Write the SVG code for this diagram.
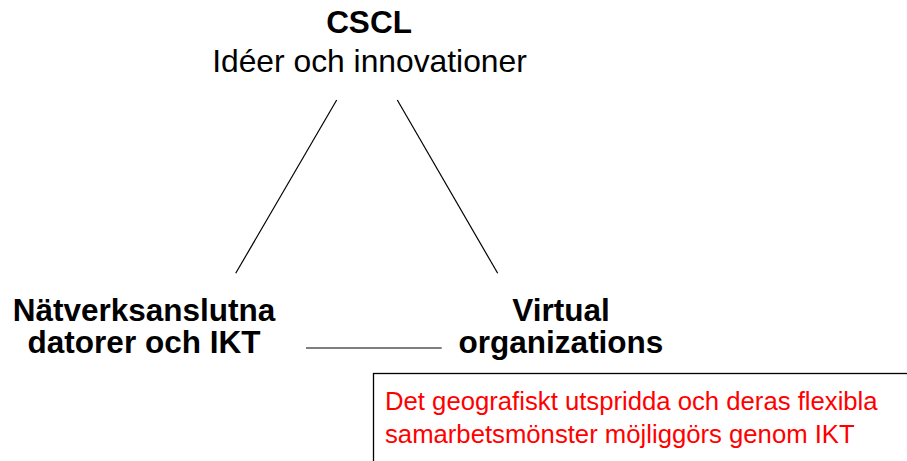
<svg xmlns="http://www.w3.org/2000/svg" width="907" height="461" viewBox="0 0 907 461">
<style>
.t{font-family:"Liberation Sans",Arial,sans-serif;fill:#000;text-anchor:middle}
.b{font-weight:bold;font-size:31.5px}
.r{font-size:31.8px}
.red{font-family:"Liberation Sans",Arial,sans-serif;fill:#ff0000;font-size:25.7px}
.c{stroke:#000;stroke-width:1.2;fill:none}
</style>
<rect width="907" height="461" fill="#fff"/>
<g id="connectors">
<line class="c" x1="336.7" y1="100" x2="235.7" y2="273.3"/>
<line class="c" x1="397.3" y1="100" x2="497.7" y2="273.3"/>
<line class="c" x1="306" y1="348" x2="441.7" y2="348"/>
</g>
<g id="cscl">
<text class="t b" x="369" y="33">CSCL</text>
<text class="t r" x="369.5" y="72">Idéer och innovationer</text>
</g>
<g id="natverk">
<text class="t b" x="144" y="321">Nätverksanslutna</text>
<text class="t b" x="144" y="353">datorer och IKT</text>
</g>
<g id="virtual">
<text class="t b" x="561" y="321">Virtual</text>
<text class="t b" x="561" y="353">organizations</text>
</g>
<g id="note">
<rect x="373.5" y="373.5" width="560" height="120" fill="#fff" stroke="#000" stroke-width="1.3"/>
<text class="red" x="385" y="410">Det geografiskt utspridda och deras flexibla</text>
<text class="red" x="385" y="443">samarbetsmönster möjliggörs genom IKT</text>
</g>
</svg>
